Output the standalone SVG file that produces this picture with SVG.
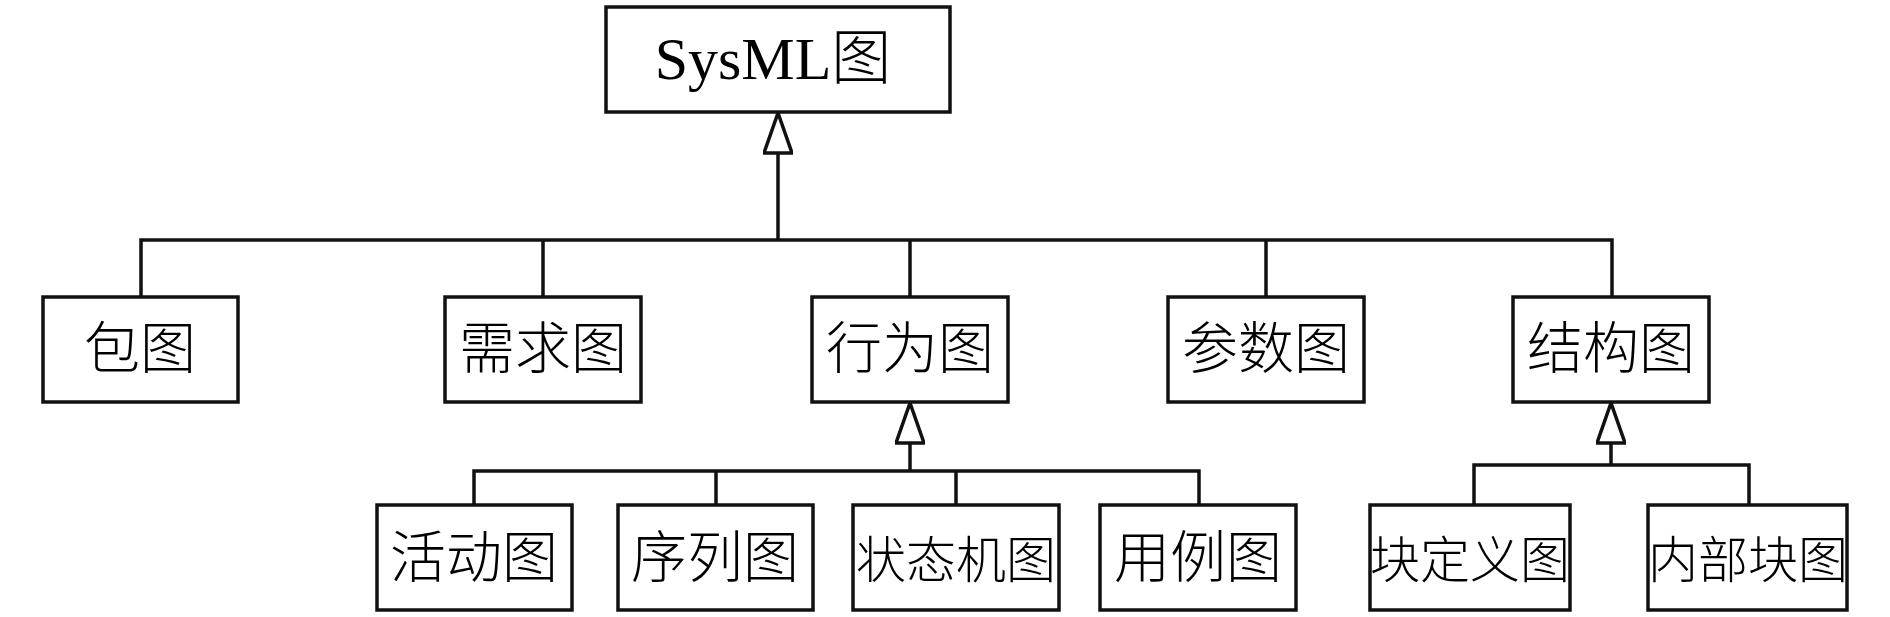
<svg xmlns="http://www.w3.org/2000/svg" width="1890" height="617" viewBox="0 0 1890 617">
<style>
.box{fill:#fff;stroke:#111;stroke-width:3.5}
.ln{fill:none;stroke:#111;stroke-width:3.5}
.t{font-family:"Liberation Serif","Noto Sans CJK SC",serif;font-weight:300;fill:#000;text-anchor:middle}
.t3{font-size:56px}
.t4{font-size:50px}
</style>
<defs>
<marker id="gen" viewBox="0 0 44 30" markerWidth="44" markerHeight="30" refX="42" refY="15" markerUnits="userSpaceOnUse" orient="auto">
<path d="M2,1 L42,15 L2,29 Z" fill="#fff" stroke="#111" stroke-width="3.5" stroke-linejoin="miter"/>
</marker>
</defs>
<g id="connectors">
<path class="ln" d="M141,297 V240 H1612 V297"/>
<path class="ln" d="M543,240 V297 M910,240 V297 M1266,240 V297"/>
<path class="ln" d="M778,240 V113" marker-end="url(#gen)"/>
<path class="ln" d="M474,505 V471 H1199 V505 M716,471 V505 M956,471 V505"/>
<path class="ln" d="M910,471 V403" marker-end="url(#gen)"/>
<path class="ln" d="M1474,505 V465 H1749 V505"/>
<path class="ln" d="M1611,465 V403" marker-end="url(#gen)"/>
</g>
<g id="sysml"><rect class="box" x="606" y="7" width="344" height="105"/><text class="t" x="773" y="79" font-size="60">SysML图</text></g>
<g id="bao"><rect class="box" x="43" y="297" width="195" height="105"/><text class="t t3" x="140" y="368">包图</text></g>
<g id="xuqiu"><rect class="box" x="445" y="297" width="196" height="105"/><text class="t t3" x="543" y="368">需求图</text></g>
<g id="xingwei"><rect class="box" x="812" y="297" width="196" height="105"/><text class="t t3" x="910" y="368">行为图</text></g>
<g id="canshu"><rect class="box" x="1168" y="297" width="196" height="105"/><text class="t t3" x="1266" y="368">参数图</text></g>
<g id="jiegou"><rect class="box" x="1513" y="297" width="196" height="105"/><text class="t t3" x="1611" y="368">结构图</text></g>
<g id="huodong"><rect class="box" x="377" y="505" width="195" height="105"/><text class="t t3" x="474" y="577">活动图</text></g>
<g id="xulie"><rect class="box" x="618" y="505" width="195" height="105"/><text class="t t3" x="715" y="577">序列图</text></g>
<g id="zhuangtaiji"><rect class="box" x="853" y="505" width="206" height="105"/><text class="t t4" x="956" y="578">状态机图</text></g>
<g id="yongli"><rect class="box" x="1100" y="505" width="196" height="105"/><text class="t t3" x="1198" y="577">用例图</text></g>
<g id="kuaidingyi"><rect class="box" x="1370" y="505" width="200" height="105"/><text class="t t4" x="1470" y="578">块定义图</text></g>
<g id="neibukuai"><rect class="box" x="1648" y="505" width="199" height="105"/><text class="t t4" x="1748" y="578">内部块图</text></g>
</svg>
